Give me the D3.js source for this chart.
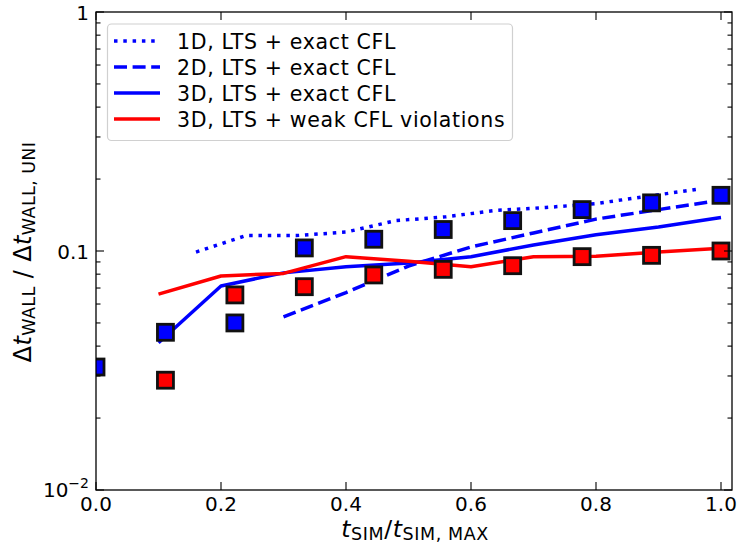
<!DOCTYPE html>
<html>
<head>
<meta charset="utf-8">
<script src="https://cdn.jsdelivr.net/npm/d3@7"></script>
<style>
  html, body { margin: 0; padding: 0; background: #fff; }
  svg { display: block; font-family: "DejaVu Sans", sans-serif; }
</style>
</head>
<body>
<svg id="chart" width="738" height="546"></svg>
<script>
// ---- data ----
const squareX = [0, 1/9, 2/9, 3/9, 4/9, 5/9, 6/9, 7/9, 8/9, 1];
const blueSquares = [0.0327, 0.0457, 0.050, 0.103, 0.112, 0.123, 0.134, 0.149, 0.159, 0.171];
const redSquaresX = [1/9, 2/9, 3/9, 4/9, 5/9, 6/9, 7/9, 8/9, 1];
const redSquares = [0.0288, 0.0655, 0.0709, 0.0794, 0.0838, 0.0868, 0.0947, 0.0959, 0.100];

const line1DX = [0.16, 0.24, 0.32, 0.40, 0.48, 0.56, 0.64, 0.72, 0.80, 0.88, 0.96];
const line1D  = [0.099, 0.116, 0.116, 0.120, 0.134, 0.139, 0.148, 0.152, 0.158, 0.169, 0.181];

const line2DX = [0.30, 0.40, 0.50, 0.60, 0.70, 0.80, 0.90, 1.00];
const line2D  = [0.053, 0.067, 0.0865, 0.104, 0.119, 0.136, 0.149, 0.163];

const line3DX = [0.10, 0.20, 0.30, 0.40, 0.50, 0.60, 0.70, 0.80, 0.90, 1.00];
const line3D  = [0.0413, 0.0714, 0.081, 0.086, 0.089, 0.0946, 0.106, 0.117, 0.126, 0.138];

const lineWeakX = [0.10, 0.20, 0.30, 0.40, 0.50, 0.60, 0.70, 0.80, 0.90, 1.00];
const lineWeak  = [0.066, 0.0786, 0.0806, 0.0947, 0.0905, 0.0859, 0.0947, 0.0950, 0.0990, 0.1026];

const xTicks = [0.0, 0.2, 0.4, 0.6, 0.8, 1.0];
const xTickLabels = ["0.0", "0.2", "0.4", "0.6", "0.8", "1.0"];
const yMajor = [0.01, 0.1, 1];
const legendLabels = ["1D, LTS + exact CFL", "2D, LTS + exact CFL", "3D, LTS + exact CFL", "3D, LTS + weak CFL violations"];

(function () {
// ---- layout ----
const L = 96, R = 732, T = 12, B = 490;
const svg = d3.select("#chart");

const x = d3.scaleLinear().domain([0, 1.0176]).range([L, R]);
const y = d3.scaleLog().domain([0.01, 1]).range([B, T]);

const blue = "#0000ff", red = "#ff0000";
const lw = 3.5;

svg.append("defs").append("clipPath").attr("id", "clip")
  .append("rect").attr("x", L).attr("y", T).attr("width", R - L).attr("height", B - T);

const plot = svg.append("g").attr("clip-path", "url(#clip)");

const lineGen = d3.line().x(d => x(d[0])).y(d => y(d[1]));
const zip = (a, b) => a.map((v, i) => [v, b[i]]);

const series = [
  {xs: line1DX, ys: line1D, color: blue, dash: "3.5,5.8"},
  {xs: line2DX, ys: line2D, color: blue, dash: "13,5.6"},
  {xs: line3DX, ys: line3D, color: blue, dash: null},
  {xs: lineWeakX, ys: lineWeak, color: red, dash: null}
];
series.forEach(s => {
  plot.append("path").attr("d", lineGen(zip(s.xs, s.ys)))
    .attr("fill", "none").attr("stroke", s.color).attr("stroke-width", lw)
    .attr("stroke-dasharray", s.dash).attr("stroke-linecap", "butt").attr("stroke-linejoin", "round");
});

const sq = 16;
function squares(xs, ys, color) {
  plot.selectAll(null).data(zip(xs, ys)).enter().append("rect")
    .attr("x", d => x(d[0]) - sq / 2).attr("y", d => y(d[1]) - sq / 2)
    .attr("width", sq).attr("height", sq)
    .attr("fill", color).attr("stroke", "#111").attr("stroke-width", 2.8);
}
squares(squareX, blueSquares, blue);
squares(redSquaresX, redSquares, red);

// ---- axes frame ----
svg.append("rect").attr("x", L).attr("y", T).attr("width", R - L).attr("height", B - T)
  .attr("fill", "none").attr("stroke", "#000").attr("stroke-width", 1.3);

const majLen = 8, minLen = 4.5;
const ticks = svg.append("g").attr("stroke", "#000").attr("stroke-width", 1.1);
xTicks.forEach(t => {
  ticks.append("line").attr("x1", x(t)).attr("x2", x(t)).attr("y1", B).attr("y2", B - majLen);
  ticks.append("line").attr("x1", x(t)).attr("x2", x(t)).attr("y1", T).attr("y2", T + majLen);
});
const yMinor = [];
[0.01, 0.1].forEach(dec => { for (let k = 2; k <= 9; k++) yMinor.push(dec * k); });
yMajor.forEach(t => {
  ticks.append("line").attr("x1", L).attr("x2", L + majLen).attr("y1", y(t)).attr("y2", y(t));
  ticks.append("line").attr("x1", R).attr("x2", R - majLen).attr("y1", y(t)).attr("y2", y(t));
});
yMinor.forEach(t => {
  ticks.append("line").attr("x1", L).attr("x2", L + minLen).attr("y1", y(t)).attr("y2", y(t));
  ticks.append("line").attr("x1", R).attr("x2", R - minLen).attr("y1", y(t)).attr("y2", y(t));
});

// ---- tick labels ----
const fs = 20;
xTicks.forEach((t, i) => {
  svg.append("text").attr("x", x(t)).attr("y", B + 20.5).attr("text-anchor", "middle")
    .attr("font-size", fs).attr("fill", "#000").text(xTickLabels[i]);
});
svg.append("text").attr("x", L - 7).attr("y", y(1) + 8).attr("text-anchor", "end")
  .attr("font-size", fs).text("1");
svg.append("text").attr("x", L - 7).attr("y", y(0.1) + 8).attr("text-anchor", "end")
  .attr("font-size", fs).text("0.1");
const t2 = svg.append("text").attr("x", L - 7).attr("y", y(0.01) + 7).attr("text-anchor", "end")
  .attr("font-size", fs);
t2.append("tspan").text("10");
t2.append("tspan").attr("dy", -9).attr("font-size", 14).text("\u22122");

// ---- axis labels ----
const xl = svg.append("text").attr("x", 415).attr("y", 537).attr("text-anchor", "middle")
  .attr("font-size", 23.5).attr("letter-spacing", 0.6);
xl.append("tspan").attr("font-style", "italic").text("t");
xl.append("tspan").attr("font-size", 17.5).attr("dy", 3).text("SIM");
xl.append("tspan").attr("dy", -3).text("/");
xl.append("tspan").attr("font-style", "italic").text("t");
xl.append("tspan").attr("font-size", 17.5).attr("dy", 3).text("SIM, MAX");

const yl = svg.append("text").attr("transform", "translate(31,252) rotate(-90)")
  .attr("text-anchor", "middle").attr("font-size", 24).attr("letter-spacing", 0.4);
yl.append("tspan").text("\u0394");
yl.append("tspan").attr("font-style", "italic").text("t");
yl.append("tspan").attr("font-size", 17.5).attr("dy", 4).text("WALL");
yl.append("tspan").attr("dy", -4).text(" / \u0394");
yl.append("tspan").attr("font-style", "italic").text("t");
yl.append("tspan").attr("font-size", 17.5).attr("dy", 4).text("WALL, UNI");

// ---- legend ----
const lg = svg.append("g");
lg.append("rect").attr("x", 107.5).attr("y", 24).attr("width", 405).attr("height", 116.5)
  .attr("rx", 4).attr("fill", "#fff").attr("fill-opacity", 0.8).attr("stroke", "#d0d0d0").attr("stroke-width", 1.2);
const rowY = [41, 67, 93, 119];
series.forEach((s, i) => {
  lg.append("line").attr("x1", 114).attr("x2", 160).attr("y1", rowY[i]).attr("y2", rowY[i])
    .attr("stroke", s.color).attr("stroke-width", lw).attr("stroke-dasharray", s.dash);
  lg.append("text").attr("x", 177).attr("y", rowY[i] + 7.5).attr("font-size", 20.5)
    .attr("letter-spacing", 0.66).attr("fill", "#000")
    .text(legendLabels[i]);
});
})();
</script>
</body>
</html>
